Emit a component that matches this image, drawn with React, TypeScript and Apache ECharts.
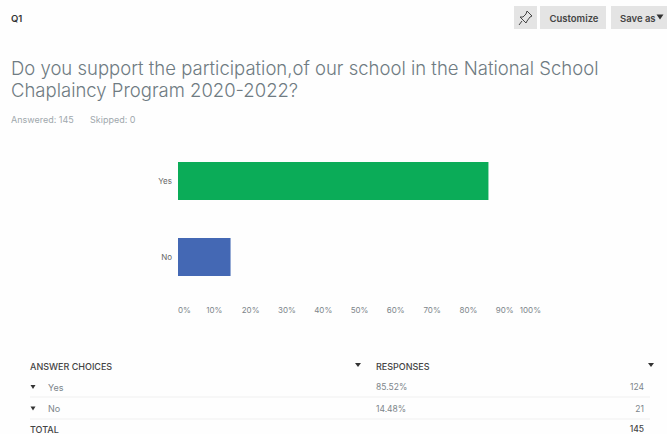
import React, { useEffect, useRef } from "react";
import * as echarts from "echarts";

const categories = ["Yes", "No"];
const percents = [85.52, 14.48];
const counts = [124, 21];
const barColors = ["#0bac58", "#4468b4"];
const totalCount = 145;
const questionLines = [
  "Do you support the participation,of our school in the National School",
  "Chaplaincy Program 2020-2022?",
];

const FONT = "Inter";

const txt = (x: number, y: number, text: string, size: number, fill: string, extra: any = {}) => ({
  type: "text",
  x,
  y,
  silent: true,
  style: { text, fontSize: size, fontFamily: FONT, fill, verticalAlign: "middle", ...extra },
});

const caret = (cx: number, cy: number, w = 6, h = 4, fill = "#333") => ({
  type: "polygon",
  silent: true,
  shape: { points: [[cx - w / 2, cy - h / 2], [cx + w / 2, cy - h / 2], [cx, cy + h / 2]] },
  style: { fill },
});

export default function App() {
  const ref = useRef<HTMLDivElement>(null);
  useEffect(() => {
    const chart = echarts.init(ref.current!, null, { renderer: "svg" });
    const tableRows = categories.flatMap((name, i) => {
      const y = 387 + i * 21.5;
      return [
        caret(33, y, 5, 4),
        txt(48, y, name, 9, "#7c858a"),
        txt(376, y, `${percents[i].toFixed(2)}%`, 8.5, "#7c858a"),
        txt(644, y, String(counts[i]), 8.5, "#7c858a", { align: "right" }),
      ];
    });
    chart.setOption({
      animation: false,
      backgroundColor: "#fefefe",
      grid: { left: 178, top: 143, width: 363, height: 152, containLabel: false },
      xAxis: {
        type: "value",
        min: 0,
        max: 100,
        interval: 10,
        axisLine: { show: false },
        axisTick: { show: false },
        splitLine: { show: false },
        axisLabel: {
          formatter: "{value}%",
          fontSize: 8,
          fontFamily: FONT,
          color: "#7c858a",
          margin: 11,
          alignMinLabel: "left",
          alignMaxLabel: "right",
        },
      },
      yAxis: {
        type: "category",
        inverse: true,
        data: categories,
        axisLine: { show: false },
        axisTick: { show: false },
        axisLabel: { fontSize: 8, fontFamily: FONT, color: "#666", margin: 6 },
      },
      series: [
        {
          type: "bar",
          barWidth: 38,
          data: percents.map((value, i) => ({ value, itemStyle: { color: barColors[i] } })),
        },
      ],
      graphic: [
        txt(11, 18, "Q1", 9.5, "#333", { fontWeight: 600 }),
        { type: "rect", silent: true, shape: { x: 514, y: 6, width: 23, height: 23 }, style: { fill: "#e4e4e4" } },
        { type: "rect", silent: true, shape: { x: 540, y: 6, width: 66, height: 23 }, style: { fill: "#e4e4e4" } },
        { type: "rect", silent: true, shape: { x: 611, y: 6, width: 56, height: 23 }, style: { fill: "#e4e4e4" } },
        {
          type: "polyline",
          silent: true,
          shape: { points: [[527, 11], [532, 16], [530, 17], [527, 21], [526, 23], [520, 17], [523, 17], [526, 14], [527, 11]] },
          style: { fill: "none", stroke: "#444", lineWidth: 1 },
        },
        { type: "line", silent: true, shape: { x1: 522, y1: 21, x2: 519, y2: 25 }, style: { stroke: "#444", lineWidth: 1 } },
        txt(574, 18, "Customize", 9.5, "#444", { align: "center", fontWeight: 600 }),
        txt(620, 18, "Save as", 9.5, "#444", { fontWeight: 600 }),
        caret(660, 17, 7, 5),
        txt(11, 68, questionLines[0], 18.5, "#6f7b82", { fontWeight: 300 }),
        txt(11, 90, questionLines[1], 18.5, "#6f7b82", { fontWeight: 300 }),
        txt(11, 119, "Answered: 145", 9, "#a0a8ad"),
        txt(90, 119, "Skipped: 0", 9, "#a0a8ad"),
        txt(30, 366, "ANSWER CHOICES", 9, "#444", { fontWeight: 500 }),
        caret(358, 365, 6, 4),
        txt(376, 366, "RESPONSES", 9, "#444", { fontWeight: 500 }),
        caret(651, 365, 6, 4),
        ...tableRows,
        { type: "line", silent: true, shape: { x1: 30, y1: 397, x2: 650, y2: 397 }, style: { stroke: "#f0f0f0" } },
        { type: "line", silent: true, shape: { x1: 30, y1: 419, x2: 650, y2: 419 }, style: { stroke: "#f0f0f0" } },
        txt(30, 429, "TOTAL", 9, "#444", { fontWeight: 500 }),
        txt(644, 429, String(totalCount), 8.5, "#444", { align: "right", fontWeight: 500 }),
      ],
    });
    return () => chart.dispose();
  }, []);
  return <div ref={ref} style={{ position: "fixed", left: 0, top: 0, width: 667, height: 434 }} />;
}
